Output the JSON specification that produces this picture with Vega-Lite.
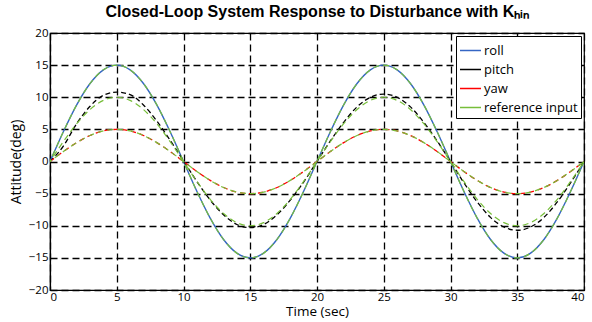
{
  "$schema": "https://vega.github.io/schema/vega-lite/v6.json",
  "autosize": {"type": "none"},
  "width": 534,
  "height": 257,
  "padding": {"left": 50, "top": 33, "right": 8, "bottom": 32},
  "background": "white",
  "title": {"text": "Closed-Loop System Response to Disturbance with Kₕᵢₙ", "font": "Liberation Sans", "fontSize": 16, "fontWeight": "bold", "color": "black", "offset": 7},
  "data": {"values": [
    {"t":0,"roll":0,"pitch":0,"yaw":0,"r15":0,"r10":0,"r5":0},
    {"t":1,"roll":4.64,"pitch":2.4,"yaw":1.55,"r15":4.64,"r10":3.09,"r5":1.55},
    {"t":2,"roll":8.82,"pitch":5.9,"yaw":2.94,"r15":8.82,"r10":5.88,"r5":2.94},
    {"t":3,"roll":12.14,"pitch":8.6,"yaw":4.05,"r15":12.14,"r10":8.09,"r5":4.05},
    {"t":4,"roll":14.27,"pitch":10.3,"yaw":4.76,"r15":14.27,"r10":9.51,"r5":4.76},
    {"t":5,"roll":15,"pitch":10.8,"yaw":5,"r15":15,"r10":10,"r5":5},
    {"t":6,"roll":14.27,"pitch":10.4,"yaw":4.76,"r15":14.27,"r10":9.51,"r5":4.76},
    {"t":7,"roll":12.14,"pitch":8.8,"yaw":4.05,"r15":12.14,"r10":8.09,"r5":4.05},
    {"t":8,"roll":8.82,"pitch":6.3,"yaw":2.94,"r15":8.82,"r10":5.88,"r5":2.94},
    {"t":9,"roll":4.64,"pitch":3.3,"yaw":1.55,"r15":4.64,"r10":3.09,"r5":1.55},
    {"t":10,"roll":0,"pitch":0.1,"yaw":0,"r15":0,"r10":0,"r5":0},
    {"t":11,"roll":-4.64,"pitch":-3.1,"yaw":-1.55,"r15":-4.64,"r10":-3.09,"r5":-1.55},
    {"t":12,"roll":-8.82,"pitch":-6.0,"yaw":-2.94,"r15":-8.82,"r10":-5.88,"r5":-2.94},
    {"t":13,"roll":-12.14,"pitch":-8.3,"yaw":-4.05,"r15":-12.14,"r10":-8.09,"r5":-4.05},
    {"t":14,"roll":-14.27,"pitch":-9.8,"yaw":-4.76,"r15":-14.27,"r10":-9.51,"r5":-4.76},
    {"t":15,"roll":-15,"pitch":-10.3,"yaw":-5,"r15":-15,"r10":-10,"r5":-5},
    {"t":16,"roll":-14.27,"pitch":-9.8,"yaw":-4.76,"r15":-14.27,"r10":-9.51,"r5":-4.76},
    {"t":17,"roll":-12.14,"pitch":-8.3,"yaw":-4.05,"r15":-12.14,"r10":-8.09,"r5":-4.05},
    {"t":18,"roll":-8.82,"pitch":-6.0,"yaw":-2.94,"r15":-8.82,"r10":-5.88,"r5":-2.94},
    {"t":19,"roll":-4.64,"pitch":-3.2,"yaw":-1.55,"r15":-4.64,"r10":-3.09,"r5":-1.55},
    {"t":20,"roll":0,"pitch":0,"yaw":0,"r15":0,"r10":0,"r5":0},
    {"t":21,"roll":4.64,"pitch":3.2,"yaw":1.55,"r15":4.64,"r10":3.09,"r5":1.55},
    {"t":22,"roll":8.82,"pitch":6.1,"yaw":2.94,"r15":8.82,"r10":5.88,"r5":2.94},
    {"t":23,"roll":12.14,"pitch":8.5,"yaw":4.05,"r15":12.14,"r10":8.09,"r5":4.05},
    {"t":24,"roll":14.27,"pitch":10.0,"yaw":4.76,"r15":14.27,"r10":9.51,"r5":4.76},
    {"t":25,"roll":15,"pitch":10.5,"yaw":5,"r15":15,"r10":10,"r5":5},
    {"t":26,"roll":14.27,"pitch":10.0,"yaw":4.76,"r15":14.27,"r10":9.51,"r5":4.76},
    {"t":27,"roll":12.14,"pitch":8.5,"yaw":4.05,"r15":12.14,"r10":8.09,"r5":4.05},
    {"t":28,"roll":8.82,"pitch":6.1,"yaw":2.94,"r15":8.82,"r10":5.88,"r5":2.94},
    {"t":29,"roll":4.64,"pitch":3.2,"yaw":1.55,"r15":4.64,"r10":3.09,"r5":1.55},
    {"t":30,"roll":0,"pitch":0,"yaw":0,"r15":0,"r10":0,"r5":0},
    {"t":31,"roll":-4.64,"pitch":-3.3,"yaw":-1.55,"r15":-4.64,"r10":-3.09,"r5":-1.55},
    {"t":32,"roll":-8.82,"pitch":-6.3,"yaw":-2.94,"r15":-8.82,"r10":-5.88,"r5":-2.94},
    {"t":33,"roll":-12.14,"pitch":-8.7,"yaw":-4.05,"r15":-12.14,"r10":-8.09,"r5":-4.05},
    {"t":34,"roll":-14.27,"pitch":-10.2,"yaw":-4.76,"r15":-14.27,"r10":-9.51,"r5":-4.76},
    {"t":35,"roll":-15,"pitch":-10.7,"yaw":-5,"r15":-15,"r10":-10,"r5":-5},
    {"t":36,"roll":-14.27,"pitch":-10.2,"yaw":-4.76,"r15":-14.27,"r10":-9.51,"r5":-4.76},
    {"t":37,"roll":-12.14,"pitch":-8.7,"yaw":-4.05,"r15":-12.14,"r10":-8.09,"r5":-4.05},
    {"t":38,"roll":-8.82,"pitch":-6.3,"yaw":-2.94,"r15":-8.82,"r10":-5.88,"r5":-2.94},
    {"t":39,"roll":-4.64,"pitch":-3.3,"yaw":-1.55,"r15":-4.64,"r10":-3.09,"r5":-1.55},
    {"t":40,"roll":0,"pitch":0,"yaw":0,"r15":0,"r10":0,"r5":0}
  ]},
  "transform": [{"fold": ["roll", "pitch", "yaw", "r15", "r10", "r5"], "as": ["k", "v"]}],
  "encoding": {
    "x": {"field": "t", "type": "quantitative", "scale": {"domain": [0, 40], "nice": false, "zero": false},
      "axis": {"title": "Time (sec)", "values": [0,5,10,15,20,25,30,35,40], "labelPadding": 1, "titlePadding": 2, "titleFontSize": 13.5}},
    "y": {"field": "v", "type": "quantitative", "scale": {"domain": [-20, 20], "nice": false},
      "axis": {"title": "Attitude(deg)", "values": [-20,-15,-10,-5,0,5,10,15,20], "titlePadding": 5}}
  },
  "layer": [
    {"transform": [{"filter": {"field": "k", "equal": "roll"}}],
     "mark": {"type": "line", "strokeWidth": 1.4, "interpolate": "monotone", "clip": true},
     "encoding": {"color": {"datum": "roll", "type": "nominal"}}},
    {"transform": [{"filter": {"field": "k", "equal": "pitch"}}],
     "mark": {"type": "line", "strokeWidth": 1.3, "strokeDash": [5, 3], "interpolate": "monotone", "clip": true},
     "encoding": {"color": {"datum": "pitch", "type": "nominal"}}},
    {"transform": [{"filter": {"field": "k", "equal": "yaw"}}],
     "mark": {"type": "line", "strokeWidth": 1.3, "strokeDash": [5, 4], "interpolate": "monotone", "clip": true},
     "encoding": {"color": {"datum": "yaw", "type": "nominal"}}},
    {"transform": [{"filter": {"field": "k", "oneOf": ["r15", "r10", "r5"]}}],
     "mark": {"type": "line", "strokeWidth": 1.2, "strokeDash": [6, 4], "strokeDashOffset": 4, "interpolate": "monotone", "clip": true},
     "encoding": {"detail": {"field": "k"}, "color": {"datum": "reference input", "type": "nominal"}}}
  ],
  "config": {
    "view": {"stroke": "black", "strokeWidth": 1.2},
    "range": {"category": ["#3566C4", "#000000", "#FF0000", "#77BE3A"]},
    "axis": {
      "grid": true, "gridColor": "black", "gridDash": [7, 4], "gridOpacity": 1, "gridWidth": 1.3,
      "domainColor": "black", "domainWidth": 1.2, "ticks": false,
      "labelFont": "Open Sans", "labelFontSize": 11.5, "labelColor": "black", "labelPadding": 2,
      "titleFont": "Open Sans", "titleFontSize": 14, "titleFontWeight": "normal", "titleColor": "black"
    },
    "legend": {
      "orient": "top-right", "offset": 3, "title": null,
      "strokeColor": "black", "fillColor": "white", "padding": 3,
      "symbolType": "stroke", "symbolSize": 441, "symbolStrokeWidth": 1.5, "symbolDash": [0, 0],
      "labelFont": "Open Sans", "labelFontSize": 13, "labelColor": "black", "rowPadding": 0, "labelOffset": 2, "cornerRadius": 0
    }
  }
}
